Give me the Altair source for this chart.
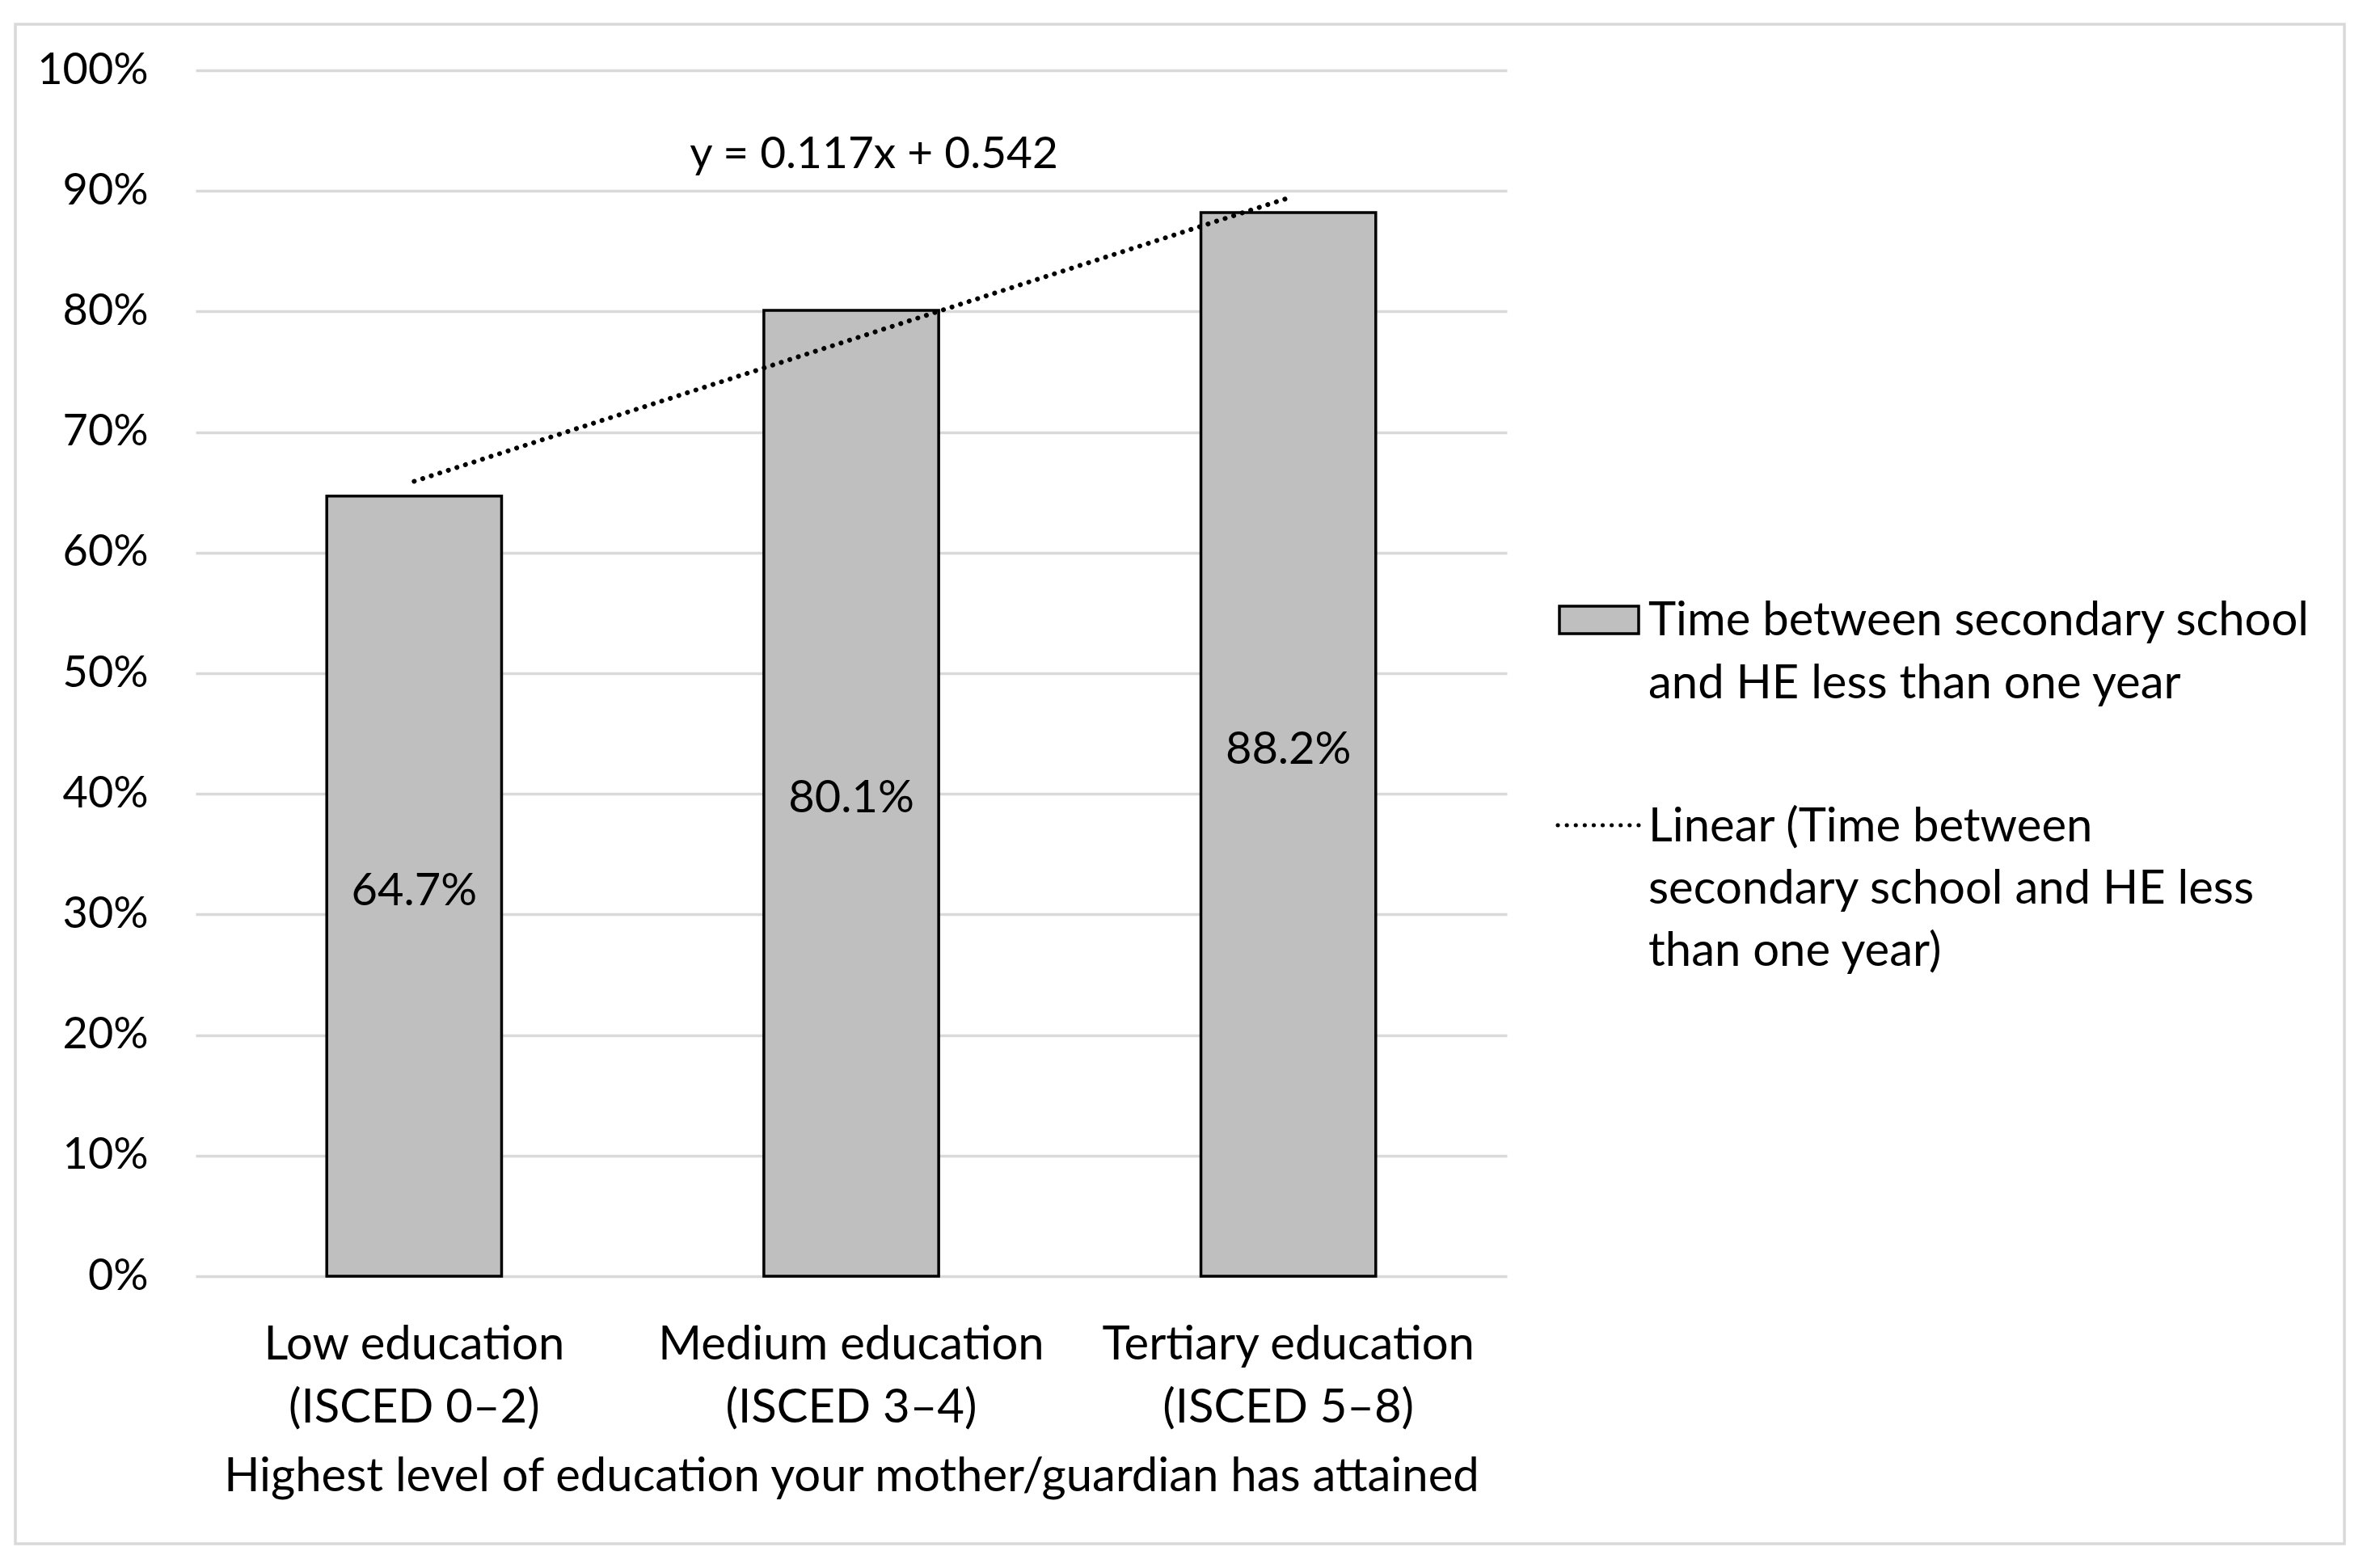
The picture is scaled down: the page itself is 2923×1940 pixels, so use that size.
import altair as alt
import pandas as pd

# ---- data ----
categories = ["Low education (ISCED 0–2)", "Medium education (ISCED 3–4)", "Tertiary education (ISCED 5–8)"]
cat_index = [1, 2, 3]
values = [0.647, 0.801, 0.882]
series_name = "Time between secondary school\nand HE less than one year"
trend_name = "Linear (Time between\nsecondary school and HE less\nthan one year)"
trend_equation = "y = 0.117x + 0.542"
axis_title = "Highest level of education your mother/guardian has attained"
y_ticks = [0, 0.1, 0.2, 0.3, 0.4, 0.5, 0.6, 0.7, 0.8, 0.9, 1.0]

df = pd.DataFrame({"cat": categories, "idx": cat_index, "value": values})

FONT = "Lato"
FS_TICK = 54
FS_TEXT = 58
W, H = 1622, 1492

x_enc = alt.X(
    "cat:N",
    sort=categories,
    scale=alt.Scale(domain=categories, paddingInner=0.6, paddingOuter=0.3),
    axis=alt.Axis(
        title=axis_title,
        labelExpr="[slice(datum.label, 0, indexof(datum.label, ' (')), slice(datum.label, indexof(datum.label, ' (') + 1)]",
        labelAngle=0,
        labelFontSize=FS_TEXT,
        labelFont=FONT,
        labelColor="black",
        labelPadding=56,
        labelLineHeight=78,
        labelBaseline="top",
        labelLimit=1000,
        ticks=False,
        tickSize=0,
        domain=False,
        titleFontSize=FS_TEXT,
        titleFont=FONT,
        titleFontWeight="normal",
        titleColor="black",
        titlePadding=27,
    ),
)

y_scale = alt.Scale(domain=[0, 1], nice=False, zero=True)
y_enc = alt.Y(
    "value:Q",
    scale=y_scale,
    axis=alt.Axis(
        title=None,
        format=".0%",
        values=y_ticks,
        labelFontSize=FS_TICK,
        labelFont=FONT,
        labelColor="black",
        labelPadding=59,
        ticks=False,
        tickSize=0,
        domain=False,
        grid=True,
        gridColor="#d9d9d9",
        gridWidth=3.5,
    ),
)

base = alt.Chart(df)

bars = base.mark_bar(fill="#bfbfbf", stroke="black", strokeWidth=3.5).encode(x=x_enc, y=y_enc)

bar_labels = base.transform_calculate(mid="datum.value / 2").mark_text(
    font=FONT, fontSize=56, color="black", baseline="middle", align="center", dy=7
).encode(
    x=alt.X("cat:N", sort=categories),
    y=alt.Y("mid:Q", scale=y_scale),
    text=alt.Text("value:Q", format=".1%"),
)

trend = base.transform_regression("idx", "value", method="linear").transform_lookup(
    lookup="idx", from_=alt.LookupData(data=df, key="idx", fields=["cat"])
).mark_line(
    color="black", strokeWidth=6, strokeDash=[0.1, 11], strokeCap="round"
).encode(
    x=alt.X("cat:N", sort=categories),
    y=alt.Y("value:Q", scale=y_scale),
)

eq_text = base.transform_filter("datum.idx == 2").mark_text(
    font=FONT, fontSize=55, color="black", baseline="middle", align="center", dx=28
).encode(
    x=alt.X("cat:N", sort=categories),
    y=alt.datum(0.930),
    text=alt.value(trend_equation),
)

# ---- legend (drawn beside the plot) ----
one = base.transform_filter("datum.idx == 1")
leg_rect = one.mark_rect(
    fill="#bfbfbf", stroke="black", strokeWidth=3.5
).encode(
    x=alt.value(1687), x2=alt.value(1785), y=alt.value(663), y2=alt.value(697)
)
leg_rect_text = one.mark_text(
    font=FONT, fontSize=FS_TEXT, color="black", align="left", baseline="alphabetic", lineBreak="\n", lineHeight=78
).encode(
    x=alt.value(1797), y=alt.value(699), text=alt.value(series_name)
)
leg_line = one.mark_rule(
    color="black", strokeWidth=5, strokeDash=[0.1, 11], strokeCap="round"
).encode(
    x=alt.value(1685), x2=alt.value(1785), y=alt.value(934)
)
leg_line_text = one.mark_text(
    font=FONT, fontSize=FS_TEXT, color="black", align="left", baseline="alphabetic", lineBreak="\n", lineHeight=77
).encode(
    x=alt.value(1797), y=alt.value(954), text=alt.value(trend_name)
)

# outer frame
frame = one.mark_rect(
    fill=None, stroke="#d9d9d9", strokeWidth=3.5
).encode(
    x=alt.value(-223), x2=alt.value(2658), y=alt.value(-57), y2=alt.value(1823)
)

chart = alt.layer(
    frame, bars, bar_labels, trend, eq_text, leg_rect, leg_rect_text, leg_line, leg_line_text
).properties(
    width=W,
    height=H,
    autosize=alt.AutoSizeParams(type="none"),
    padding={"left": 234, "top": 79, "right": 1040, "bottom": 340},
    background="white",
).configure_view(stroke=None)

chart.save("out.html", embed_options={"renderer": "svg", "actions": False})
